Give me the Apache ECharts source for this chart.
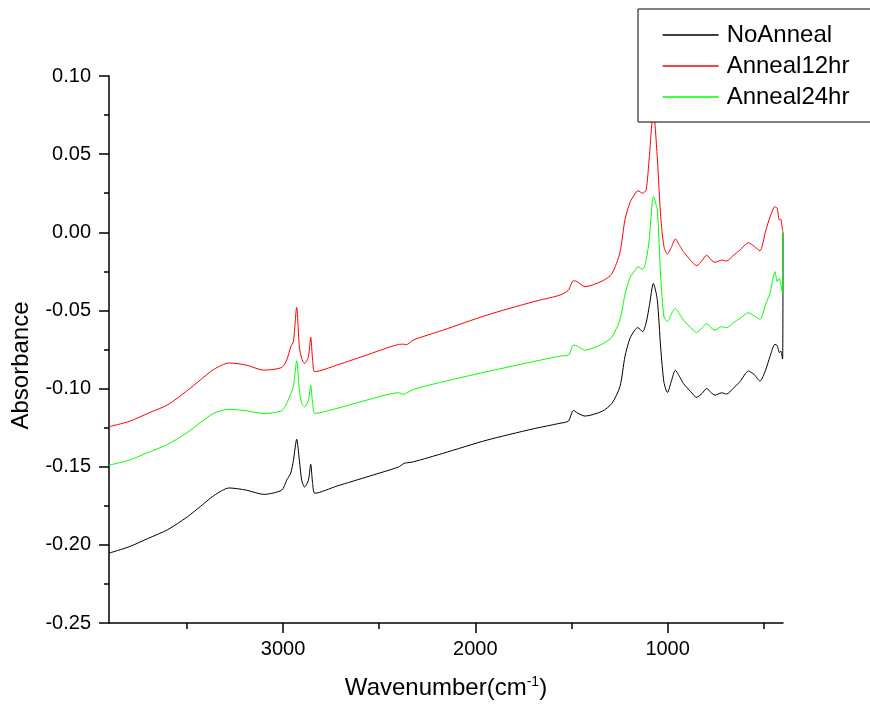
<!DOCTYPE html>
<html>
<head>
<meta charset="utf-8">
<script src="https://cdn.jsdelivr.net/npm/echarts@6/dist/echarts.min.js"></script>
<style>html,body{margin:0;padding:0;background:#fff;}#chart{width:870px;height:706px;}</style>
</head>
<body>
<div id="chart"></div>
<script>
// Wavenumber grid (cm-1) shared by all spectra
const wavenumbers = [3905, 3800, 3700, 3600, 3500, 3430, 3360, 3280, 3190, 3100, 3007, 2981, 2960, 2946, 2929, 2915, 2903, 2888, 2868, 2856, 2846, 2834, 2720, 2550, 2400, 2370, 2360, 2320, 2170, 1940, 1700, 1560, 1516, 1490, 1470, 1430, 1340, 1290, 1248, 1222, 1196, 1170, 1155, 1130, 1112, 1095, 1074, 1054, 1036, 1019, 1001, 979, 960, 935, 918, 880, 849, 820, 797, 775, 754, 719, 693, 660, 624, 580, 550, 520, 490, 468, 442, 430, 419, 412, 402, 400];

const noAnneal = [-0.2053, -0.2012, -0.1958, -0.1903, -0.1823, -0.1755, -0.1685, -0.1636, -0.1650, -0.1677, -0.1650, -0.1586, -0.1540, -0.1460, -0.1325, -0.1458, -0.1586, -0.1630, -0.1586, -0.1485, -0.1607, -0.1670, -0.1624, -0.1560, -0.1502, -0.1478, -0.1476, -0.1468, -0.1415, -0.1330, -0.1258, -0.1222, -0.1208, -0.1140, -0.1155, -0.1176, -0.1145, -0.1095, -0.0988, -0.0796, -0.0679, -0.0625, -0.0610, -0.0636, -0.0580, -0.0470, -0.0327, -0.0430, -0.0740, -0.0960, -0.1025, -0.0946, -0.0883, -0.0930, -0.0967, -0.1020, -0.1056, -0.1030, -0.0999, -0.1025, -0.1042, -0.1027, -0.1035, -0.1000, -0.0956, -0.0888, -0.0910, -0.0952, -0.0880, -0.0796, -0.0717, -0.0725, -0.0770, -0.0760, -0.0811, 0.0000];

const anneal12hr = [-0.1244, -0.1210, -0.1157, -0.1104, -0.1015, -0.0945, -0.0877, -0.0836, -0.0850, -0.0882, -0.0865, -0.0818, -0.0733, -0.0700, -0.0480, -0.0733, -0.0807, -0.0839, -0.0796, -0.0672, -0.0818, -0.0892, -0.0850, -0.0779, -0.0718, -0.0716, -0.0720, -0.0688, -0.0627, -0.0530, -0.0445, -0.0402, -0.0370, -0.0310, -0.0316, -0.0348, -0.0312, -0.0265, -0.0130, 0.0080, 0.0190, 0.0245, 0.0266, 0.0250, 0.0270, 0.0484, 0.0780, 0.0484, 0.0100, -0.0092, -0.0139, -0.0092, -0.0043, -0.0090, -0.0124, -0.0180, -0.0214, -0.0180, -0.0146, -0.0175, -0.0192, -0.0178, -0.0184, -0.0150, -0.0114, -0.0067, -0.0090, -0.0118, 0.0010, 0.0096, 0.0164, 0.0153, 0.0078, 0.0085, 0.0010, 0.0003];

const anneal24hr = [-0.1490, -0.1458, -0.1408, -0.1357, -0.1283, -0.1218, -0.1158, -0.1133, -0.1142, -0.1160, -0.1142, -0.1095, -0.1031, -0.0988, -0.0822, -0.1010, -0.1095, -0.1116, -0.1074, -0.0980, -0.1095, -0.1159, -0.1127, -0.1069, -0.1027, -0.1037, -0.1030, -0.1005, -0.0957, -0.0892, -0.0828, -0.0792, -0.0786, -0.0722, -0.0728, -0.0754, -0.0715, -0.0670, -0.0560, -0.0400, -0.0290, -0.0245, -0.0220, -0.0237, -0.0180, -0.0040, 0.0228, 0.0142, -0.0284, -0.0540, -0.0572, -0.0519, -0.0487, -0.0530, -0.0562, -0.0610, -0.0640, -0.0610, -0.0583, -0.0610, -0.0626, -0.0604, -0.0611, -0.0580, -0.0551, -0.0515, -0.0535, -0.0557, -0.0460, -0.0391, -0.0252, -0.0316, -0.0295, -0.0330, -0.0391, 0.0000];

const seriesNames = ['NoAnneal', 'Anneal12hr', 'Anneal24hr'];
const seriesColors = ['#000000', '#ff0000', '#00ff00'];
const xMajorTicks = [1000, 2000, 3000];
const xMinorTicks = [500, 1500, 2500, 3500];

const allSeries = [noAnneal, anneal12hr, anneal24hr];
const FONT = 'Liberation Sans, Arial, sans-serif';

const chart = echarts.init(document.getElementById('chart'), null, {renderer: 'canvas'});
const option = {
  animation: false,
  backgroundColor: '#ffffff',
  grid: {left: 109, right: 87, top: 76, bottom: 83, containLabel: false},
  legend: {
    orient: 'vertical',
    left: 638, top: 9,
    padding: [14, 40, 13, 24],
    itemWidth: 56, itemHeight: 24, itemGap: 7,
    borderColor: '#000', borderWidth: 1,
    backgroundColor: '#ffffff',
    itemStyle: {opacity: 0},
    lineStyle: {width: 1.3},
    textStyle: {fontFamily: FONT, fontSize: 24, color: '#000', padding: [0, 0, 0, 3]},
    data: seriesNames
  },
  xAxis: [{
    type: 'value', inverse: true, min: 400, max: 3905,
    name: 'Wavenumber(cm{sup|-1})',
    nameLocation: 'middle', nameGap: 52,
    nameTextStyle: {fontFamily: FONT, fontSize: 24, color: '#000',
      rich: {sup: {fontFamily: FONT, fontSize: 14, color: '#000', verticalAlign: 'top', padding: [0, 0, 12, 0]}}},
    axisLine: {show: true, onZero: false, lineStyle: {color: '#000', width: 1.5}},
    axisTick: {show: true, length: 10, inside: false, customValues: xMajorTicks, lineStyle: {color: '#000', width: 1.5}},
    axisLabel: {fontFamily: FONT, fontSize: 20, color: '#000', margin: 16, customValues: xMajorTicks, formatter: v => String(v)},
    splitLine: {show: false}
  }, {
    type: 'value', inverse: true, min: 400, max: 3905, position: 'bottom',
    axisLine: {show: false, onZero: false},
    axisTick: {show: true, length: 6, customValues: xMinorTicks, lineStyle: {color: '#000', width: 1.5}},
    axisLabel: {show: false},
    splitLine: {show: false}
  }],
  yAxis: {
    type: 'value', min: -0.25, max: 0.10, interval: 0.05,
    name: 'Absorbance', nameLocation: 'middle', nameGap: 76,
    nameTextStyle: {fontFamily: FONT, fontSize: 24, color: '#000', padding: [0, 32, 0, 0]},
    axisLine: {show: true, onZero: false, lineStyle: {color: '#000', width: 1.5}},
    axisTick: {show: true, length: 10, lineStyle: {color: '#000', width: 1.5}},
    minorTick: {show: true, splitNumber: 2, length: 5, lineStyle: {color: '#000', width: 1.5}},
    axisLabel: {fontFamily: FONT, fontSize: 20, color: '#000', margin: 18, formatter: v => v.toFixed(2)},
    splitLine: {show: false}, minorSplitLine: {show: false}
  },
  series: allSeries.map((vals, i) => ({
    name: seriesNames[i], type: 'line', xAxisIndex: 0,
    data: wavenumbers.map((w, j) => [w, vals[j]]),
    symbol: 'none', showSymbol: false, smooth: 0.25,
    lineStyle: {color: seriesColors[i], width: 1},
    itemStyle: {color: seriesColors[i]},
    z: 2 + i
  }))
};
chart.setOption(option);
</script>
</body>
</html>
